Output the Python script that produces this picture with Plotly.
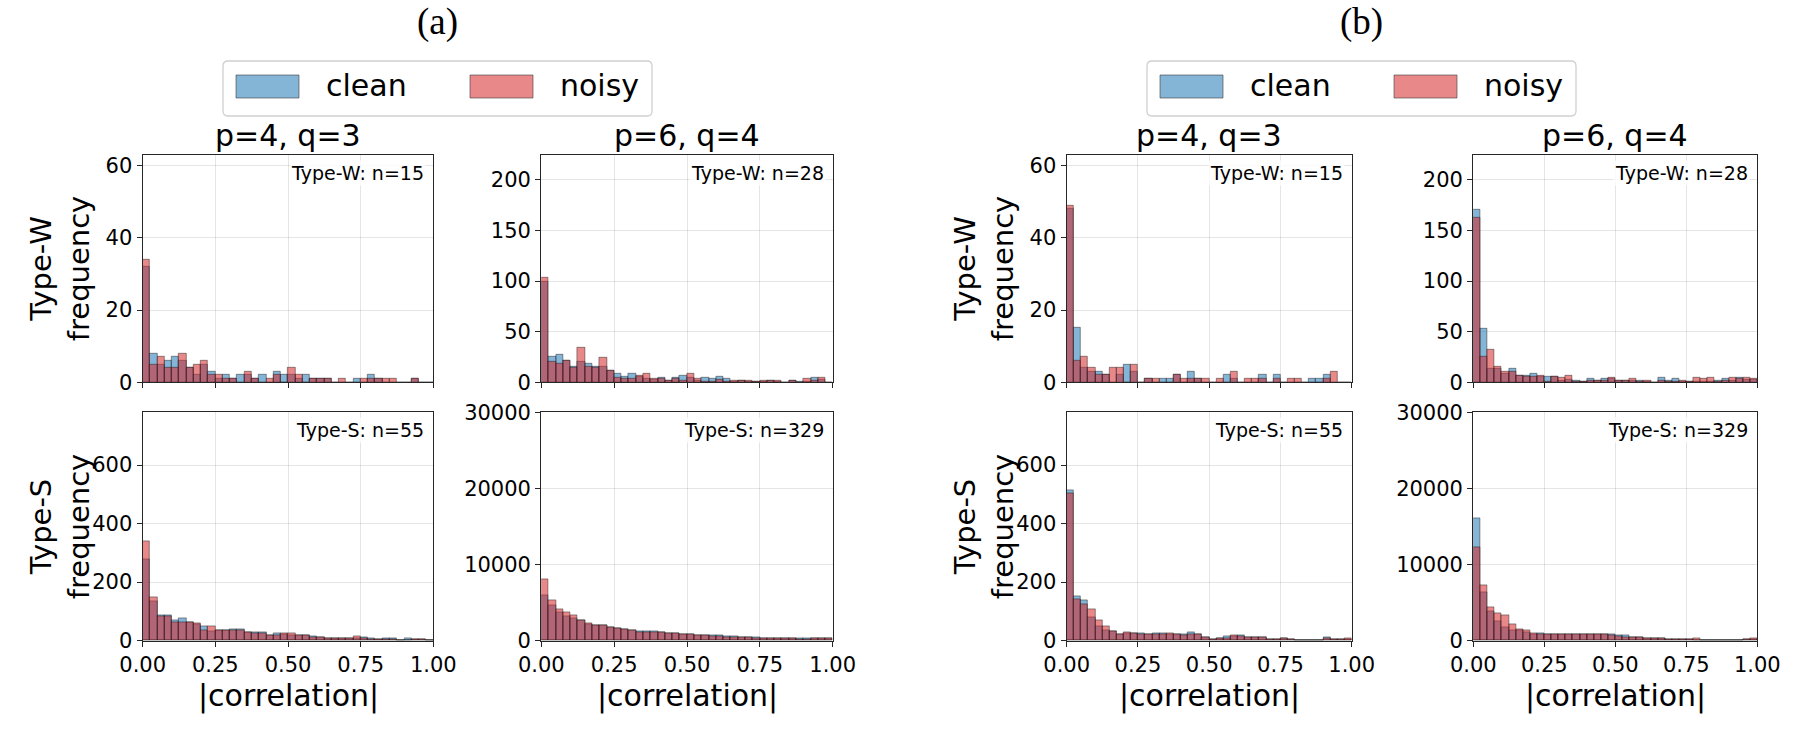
import plotly.graph_objects as go

# ---------------- data ----------------
bin_edges = [i * 0.025 for i in range(41)]
x_tick_vals = [0, 0.25, 0.5, 0.75, 1.0]
x_tick_text = ["0.00", "0.25", "0.50", "0.75", "1.00"]

a_w43_clean = [32, 8, 5, 6, 7, 6, 4, 2, 5, 3, 1, 2, 1, 2, 2, 1, 2, 0, 3, 2,
               2, 1, 2, 1, 1, 1, 0, 0, 0, 1, 0, 2, 1, 0, 0, 0, 0, 1, 0, 0]
a_w43_noisy = [34, 5, 7, 4, 4, 8, 4, 5, 6, 2, 2, 1, 1, 0, 3, 1, 0, 1, 2, 0,
               4, 2, 0, 1, 1, 1, 0, 1, 0, 0, 1, 1, 1, 1, 1, 0, 0, 1, 0, 0]

a_w64_clean = [99, 25, 27, 21, 15, 20, 18, 15, 15, 11, 9, 6, 9, 6, 4, 3, 5, 2, 5, 7,
               5, 2, 5, 4, 6, 4, 1, 2, 1, 1, 1, 2, 1, 0, 2, 1, 1, 5, 3, 0]
a_w64_noisy = [103, 20, 18, 21, 14, 34, 15, 14, 24, 11, 5, 4, 4, 7, 9, 4, 4, 2, 4, 2,
               9, 4, 1, 1, 3, 1, 2, 2, 2, 1, 2, 2, 2, 0, 2, 0, 4, 2, 5, 0]

a_s43_clean = [278, 136, 87, 87, 70, 76, 63, 56, 49, 33, 35, 35, 39, 38, 30, 30, 28, 18, 24, 23,
               20, 19, 18, 14, 11, 9, 9, 8, 8, 8, 12, 8, 5, 8, 8, 3, 7, 5, 5, 0]
a_s43_noisy = [338, 149, 85, 85, 64, 62, 63, 59, 35, 50, 35, 35, 34, 35, 28, 26, 26, 18, 20, 25,
               26, 19, 18, 13, 11, 9, 9, 8, 8, 16, 9, 5, 5, 5, 4, 3, 3, 5, 4, 0]

a_s64_clean = [6000, 4700, 3770, 3150, 2980, 2630, 2190, 2060, 2050, 1800,
               1620, 1530, 1400, 1230, 1230, 1230, 1100, 1000, 920, 880,
               830, 745, 745, 700, 700, 570, 570, 480, 480, 440,
               300, 300, 300, 300, 300, 300, 300, 300, 300, 300]
a_s64_noisy = [8100, 5300, 4100, 3700, 3330, 2700, 2320, 2060, 2050, 1800,
               1620, 1530, 1400, 1140, 1140, 1140, 1050, 1000, 920, 880,
               830, 660, 660, 610, 570, 480, 480, 440, 440, 350,
               300, 280, 280, 260, 260, 180, 180, 260, 280, 280]

b_w43_clean = [48, 15, 4, 3, 3, 2, 0, 2, 5, 3, 0, 1, 0, 1, 1, 2, 0, 3, 1, 0,
               0, 0, 2, 1, 0, 0, 0, 2, 0, 2, 0, 0, 0, 0, 1, 1, 2, 0, 0, 0]
b_w43_noisy = [49, 6, 7, 4, 2, 2, 4, 4, 0, 5, 0, 1, 1, 0, 0, 2, 1, 1, 1, 1,
               0, 1, 0, 3, 0, 1, 1, 1, 0, 1, 0, 1, 1, 0, 0, 0, 1, 3, 0, 0]

b_w64_clean = [171, 53, 13, 13, 9, 13, 7, 7, 9, 6, 6, 6, 2, 3, 2, 1, 4, 2, 4, 4,
               2, 2, 2, 2, 1, 0, 5, 2, 4, 1, 1, 1, 1, 1, 2, 4, 2, 5, 3, 3]
b_w64_noisy = [163, 25, 32, 15, 10, 10, 7, 6, 6, 7, 1, 6, 5, 7, 1, 1, 2, 2, 2, 5,
               2, 2, 4, 1, 2, 0, 2, 1, 1, 2, 1, 5, 4, 5, 1, 2, 5, 4, 5, 4]

b_s43_clean = [512, 150, 139, 79, 50, 35, 33, 23, 26, 24, 26, 23, 26, 26, 22, 21, 23, 30, 21, 12,
               6, 7, 15, 14, 19, 12, 12, 11, 5, 5, 7, 5, 2, 2, 2, 3, 12, 5, 5, 6]
b_s43_noisy = [505, 140, 125, 108, 71, 50, 33, 22, 29, 24, 22, 23, 23, 23, 26, 21, 19, 23, 21, 12,
               6, 7, 9, 17, 15, 12, 12, 11, 5, 5, 8, 5, 2, 2, 2, 3, 8, 5, 4, 9]

b_s64_clean = [16100, 6400, 3830, 2550, 1800, 1350, 1350, 1100, 880, 920,
               900, 900, 900, 900, 900, 880, 880, 850, 830, 800,
               660, 660, 440, 440, 300, 300, 260, 175, 175, 130,
               130, 90, 90, 90, 90, 90, 90, 90, 175, 200]
b_s64_noisy = [12250, 7250, 4450, 3600, 3400, 2200, 1500, 1370, 960, 830,
               830, 830, 830, 830, 800, 800, 790, 790, 790, 760,
               530, 440, 440, 440, 260, 260, 260, 175, 175, 130,
               130, 260, 90, 90, 90, 90, 90, 90, 175, 300]

col_titles = ["p=4, q=3", "p=6, q=4"]
row_labels = ["Type-W<br>frequency", "Type-S<br>frequency"]
panel_notes = ["Type-W: n=15", "Type-W: n=28", "Type-S: n=55", "Type-S: n=329"]
group_titles = ["(a)", "(b)"]
series_names = ["clean", "noisy"]
x_label = "|correlation|"

# ---------------- styling / layout ----------------
W, H = 1800, 734
FONT = "DejaVu Sans"
CLEAN = "rgba(31,119,180,0.55)"
NOISY = "rgba(214,39,40,0.55)"
EDGE = "rgba(20,20,20,0.55)"
GRID = "rgba(0,0,0,0.10)"
AXC = "#262626"
TICK_SIZE = 21


def px(x):
    return x / W


def py(y):
    return 1 - y / H


# panel pixel boxes: (left, right) for 4 columns, (top, bottom) for 2 rows
col_px = [(142.7, 433.3), (541.3, 832.7), (1066.7, 1351.7), (1473.3, 1757.3)]
row_px = [(154.7, 382.3), (412.3, 640.7)]

ymax = {("W", 0): 63, ("W", 1): 225, ("S", 0): 780, ("S", 1): 30000}
ydtick = {("W", 0): 20, ("W", 1): 50, ("S", 0): 200, ("S", 1): 10000}

panels = [
    # group, row, sub-col, clean, noisy
    (0, 0, 0, a_w43_clean, a_w43_noisy),
    (0, 0, 1, a_w64_clean, a_w64_noisy),
    (0, 1, 0, a_s43_clean, a_s43_noisy),
    (0, 1, 1, a_s64_clean, a_s64_noisy),
    (1, 0, 0, b_w43_clean, b_w43_noisy),
    (1, 0, 1, b_w64_clean, b_w64_noisy),
    (1, 1, 0, b_s43_clean, b_s43_noisy),
    (1, 1, 1, b_s64_clean, b_s64_noisy),
]

centers = [(bin_edges[i] + bin_edges[i + 1]) / 2 for i in range(len(bin_edges) - 1)]
bw = bin_edges[1] - bin_edges[0]

fig = go.Figure()
layout = {}
annotations = []
shapes = []

for k, (g, r, c, clean, noisy) in enumerate(panels, start=1):
    col = g * 2 + c
    xl, xr = col_px[col]
    yt, yb = row_px[r]
    kind = "W" if r == 0 else "S"
    xa = "x" if k == 1 else f"x{k}"
    ya = "y" if k == 1 else f"y{k}"
    for vals, color in ((clean, CLEAN), (noisy, NOISY)):
        fig.add_trace(go.Bar(
            x=centers, y=vals, width=bw, xaxis=xa, yaxis=ya,
            marker=dict(color=color, line=dict(color=EDGE, width=0.8)),
            showlegend=False, hoverinfo="skip"))
    layout[f"xaxis{k}"] = dict(
        domain=[px(xl), px(xr)], anchor=ya, range=[0, 1], automargin=False,
        tickvals=x_tick_vals, ticktext=x_tick_text,
        showticklabels=(r == 1), ticks="outside", ticklen=5, tickwidth=1.2,
        tickcolor=AXC, showgrid=True, gridcolor=GRID, gridwidth=1.2,
        showline=True, linecolor=AXC, linewidth=1.3, mirror=True,
        zeroline=False, tickfont=dict(family=FONT, size=TICK_SIZE, color="black"))
    layout[f"yaxis{k}"] = dict(
        domain=[py(yb), py(yt)], anchor=xa, range=[0, ymax[(kind, c)]],
        automargin=False,
        dtick=ydtick[(kind, c)], tick0=0, tickformat="d",
        ticks="outside", ticklen=5, tickwidth=1.2, tickcolor=AXC,
        showgrid=True, gridcolor=GRID, gridwidth=1.2,
        showline=True, linecolor=AXC, linewidth=1.3, mirror=True,
        zeroline=False, tickfont=dict(family=FONT, size=TICK_SIZE, color="black"))
    # panel note
    annotations.append(dict(
        text=panel_notes[r * 2 + c], xref="paper", yref="paper",
        x=px(xr - 7), y=py(yt + 5), xanchor="right", yanchor="top",
        showarrow=False, bgcolor="rgba(255,255,255,0.8)",
        font=dict(family=FONT, size=19, color="black")))
    if r == 0:
        annotations.append(dict(
            text=col_titles[c], xref="paper", yref="paper",
            x=px((xl + xr) / 2), y=py(136), xanchor="center", yanchor="middle",
            showarrow=False, font=dict(family=FONT, size=30, color="black")))
    else:
        annotations.append(dict(
            text=x_label, xref="paper", yref="paper",
            x=px((xl + xr) / 2), y=py(696), xanchor="center", yanchor="middle",
            showarrow=False, font=dict(family=FONT, size=30, color="black")))
    if c == 0:
        annotations.append(dict(
            text=row_labels[r], xref="paper", yref="paper",
            x=px(xl - 83), y=py((yt + yb) / 2), xanchor="center", yanchor="middle",
            textangle=-90, showarrow=False,
            font=dict(family=FONT, size=29, color="black")))


def rounded_rect(x0, y0, x1, y1, rad):
    pts = [
        f"M {px(x0 + rad)},{py(y0)}",
        f"L {px(x1 - rad)},{py(y0)}",
        f"Q {px(x1)},{py(y0)} {px(x1)},{py(y0 + rad)}",
        f"L {px(x1)},{py(y1 - rad)}",
        f"Q {px(x1)},{py(y1)} {px(x1 - rad)},{py(y1)}",
        f"L {px(x0 + rad)},{py(y1)}",
        f"Q {px(x0)},{py(y1)} {px(x0)},{py(y1 - rad)}",
        f"L {px(x0)},{py(y0 + rad)}",
        f"Q {px(x0)},{py(y0)} {px(x0 + rad)},{py(y0)}",
        "Z",
    ]
    return " ".join(pts)


group_center = [437, 1361]
for g in range(2):
    cx = group_center[g]
    off = cx - 437
    annotations.append(dict(
        text=group_titles[g], xref="paper", yref="paper",
        x=px(cx), y=py(22), xanchor="center", yanchor="middle", showarrow=False,
        font=dict(family="Liberation Serif", size=37, color="black")))
    shapes.append(dict(
        type="path", xref="paper", yref="paper",
        path=rounded_rect(223 + off, 61, 652 + off, 116, 5),
        fillcolor="white", line=dict(color="#d0d0d0", width=1.3)))
    for (x0, name, color) in ((236, series_names[0], CLEAN), (470, series_names[1], NOISY)):
        shapes.append(dict(
            type="rect", xref="paper", yref="paper",
            x0=px(x0 + off), x1=px(x0 + 63 + off), y0=py(98), y1=py(75),
            fillcolor=color, line=dict(color="rgba(60,60,60,0.6)", width=1)))
        annotations.append(dict(
            text=name, xref="paper", yref="paper",
            x=px(x0 + 88 + off), y=py(86), xanchor="left", yanchor="middle",
            showarrow=False, font=dict(family=FONT, size=30, color="black")))

fig.update_layout(
    width=W, height=H, margin=dict(l=0, r=0, t=0, b=0, autoexpand=False),
    paper_bgcolor="white", plot_bgcolor="white",
    barmode="overlay", bargap=0,
    annotations=annotations, shapes=shapes, **layout)

fig.write_html("out.html")
